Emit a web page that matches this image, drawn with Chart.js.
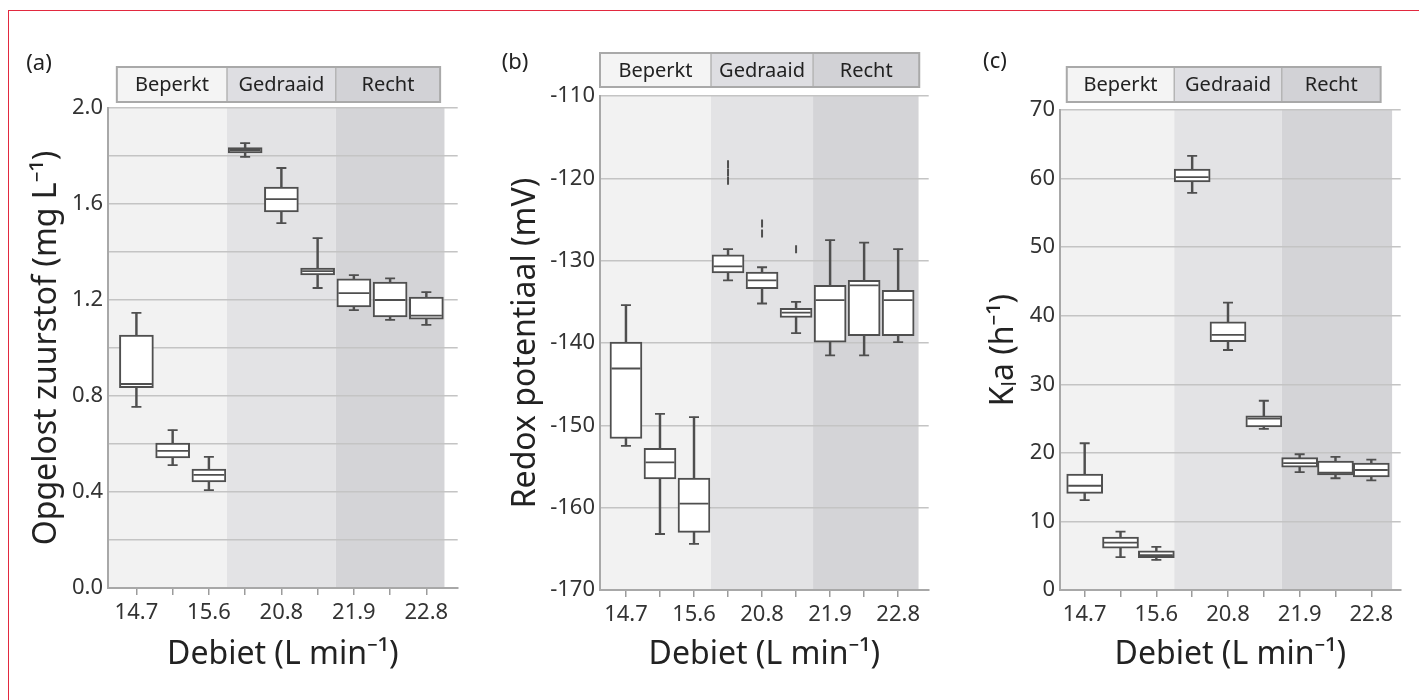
<!DOCTYPE html>
<html>
<head>
<meta charset="utf-8">
<script src="https://cdn.jsdelivr.net/npm/chart.js@4.4.1/dist/chart.umd.min.js"></script>
<style>
    html, body { margin: 0; padding: 0; background: #ffffff; }
    #page { position: relative; width: 1419px; height: 700px; overflow: hidden; }
    #frame { position: absolute; left: 8px; top: 10px; right: -10px; bottom: -10px;
             border-left: 1.5px solid #e2293f; border-top: 1.5px solid #e2293f; }
    .panel { position: absolute; top: 0; height: 700px; }
</style>
</head>
<body>
<div id="page">
    <div id="frame"></div>
    <div class="panel" style="left:0;width:475px"><canvas id="chartA"></canvas></div>
    <div class="panel" style="left:475px;width:470px"><canvas id="chartB"></canvas></div>
    <div class="panel" style="left:945px;width:474px"><canvas id="chartC"></canvas></div>
</div>
<script>
/* ==========================================================
   Data: box statistics per flow rate
========================================================== */

const flowLabels = ["14.7", "", "15.6", "", "20.8", "", "21.9", "", "22.8"];
const groupNames = ["Beperkt", "Gedraaid", "Recht"];
const groupSizes = [3, 3, 3];

// (a) Opgelost zuurstof (mg/L)
const oxygenMin    = [0.755, 0.512, 0.408, 1.796, 1.52, 1.25, 1.158, 1.117, 1.096];
const oxygenQ1     = [0.835, 0.542, 0.442, 1.813, 1.567, 1.304, 1.171, 1.129, 1.12];
const oxygenMedian = [0.85, 0.571, 0.471, 1.825, 1.62, 1.32, 1.229, 1.2, 1.135];
const oxygenQ3     = [1.054, 0.604, 0.496, 1.835, 1.671, 1.333, 1.288, 1.275, 1.212];
const oxygenMax    = [1.146, 0.658, 0.546, 1.854, 1.75, 1.458, 1.304, 1.29, 1.233];

// (b) Redox potentiaal (mV)
const redoxMin    = [-152.5, -163.2, -164.4, -132.4, -135.2, -138.8, -141.5, -141.5, -139.9];
const redoxQ1     = [-151.6, -156.5, -163.0, -131.5, -133.4, -136.9, -139.9, -139.1, -139.1];
const redoxMedian = [-143.1, -154.5, -159.5, -130.7, -132.4, -136.3, -134.8, -133.0, -134.8];
const redoxQ3     = [-139.9, -152.8, -156.4, -129.3, -131.4, -135.8, -133.0, -132.4, -133.6];
const redoxMax    = [-135.4, -148.6, -149.0, -128.6, -130.8, -135.0, -127.5, -127.8, -128.6];
const redoxOutlierAt  = [4, 4, 4, 5, 5, 6];
const redoxOutlierVal = [-118.3, -119.3, -120.3, -125.5, -126.7, -128.6];

// (c) KLa (1/h)
const klaMin    = [13.1, 4.8, 4.4, 57.9, 35.0, 23.5, 17.2, 16.3, 16.0];
const klaQ1     = [14.1, 6.1, 4.7, 59.5, 36.2, 23.8, 17.9, 16.8, 16.5];
const klaMedian = [15.2, 6.9, 5.1, 60.2, 37.2, 25.0, 18.5, 17.1, 17.5];
const klaQ3     = [16.9, 7.7, 5.7, 61.4, 39.1, 25.4, 19.3, 18.8, 18.5];
const klaMax    = [21.4, 8.5, 6.3, 63.3, 41.9, 27.6, 19.8, 19.4, 19.0];

/* ==========================================================
   Styling
========================================================== */

const EDGE = "#4f4f4f";
const SHADES = ["#f2f2f2", "#e3e3e5", "#d4d4d7"];
const HEAD_FILLS = ["#f4f4f4", "#dedee2", "#d2d2d6"];

Chart.defaults.font.family = "'Noto Sans', sans-serif";
Chart.defaults.color = "#333333";

// cumulative group edges in x units (3.5, 6.5, ...)
let acc = 0;
const groupEdges = groupSizes.map((n) => (acc += n) + 0.5);

/* ==========================================================
   Shaded groups, header strip and panel letter
========================================================== */

const bandPlugin = {
    id: "bands",
    beforeDraw(chart, args, o) {
        const { ctx, chartArea: a, scales: { x } } = chart;
        const edges = [a.left].concat(groupEdges.slice(0, -1).map((v) => x.getPixelForValue(v)));
        edges.push(x.getPixelForValue(o.shadeEnd));
        ctx.save();
        groupNames.forEach((g, i) => {
            ctx.fillStyle = SHADES[i];
            ctx.fillRect(edges[i], a.top, edges[i + 1] - edges[i], a.bottom - a.top);
        });
        ctx.restore();
    },
    afterDraw(chart, args, o) {
        const { ctx, scales: { x } } = chart;
        const edges = [x.getPixelForValue(o.headStart)]
            .concat(groupEdges.slice(0, -1).map((v) => x.getPixelForValue(v)));
        edges.push(x.getPixelForValue(o.headEnd));
        const h = o.headBottom - o.headTop;

        ctx.save();
        groupNames.forEach((g, i) => {
            ctx.fillStyle = HEAD_FILLS[i];
            ctx.fillRect(edges[i], o.headTop, edges[i + 1] - edges[i], h);
            ctx.fillStyle = "#222222";
            ctx.font = "20px 'Noto Sans', sans-serif";
            ctx.textAlign = "center";
            ctx.textBaseline = "middle";
            ctx.fillText(g, (edges[i] + edges[i + 1]) / 2, o.headTop + h / 2 + 1);
        });
        ctx.strokeStyle = "#b5b5b5";
        ctx.lineWidth = 1.5;
        for (let i = 1; i < edges.length - 1; i++) {
            ctx.beginPath();
            ctx.moveTo(edges[i], o.headTop);
            ctx.lineTo(edges[i], o.headBottom);
            ctx.stroke();
        }
        ctx.strokeStyle = "#a9a9a9";
        ctx.lineWidth = 2;
        ctx.strokeRect(edges[0], o.headTop, edges[edges.length - 1] - edges[0], h);

        ctx.fillStyle = "#222222";
        ctx.font = "22px 'Noto Sans', sans-serif";
        ctx.textAlign = "center";
        ctx.fillText(o.letter, o.letterX, o.letterY);
        ctx.restore();
    }
};

/* ==========================================================
   Box plot panel
========================================================== */

function renderPanel(id, s, p) {

    const at = (arr) => arr.map((v, i) => ({ x: i + 1, y: v }));
    const span = (lo, hi) => lo.map((v, i) => ({ x: i + 1, y: [v, hi[i]] }));

    const datasets = [
        { type: "bar", data: span(s.min, s.max), barThickness: 1.8,
          backgroundColor: EDGE, grouped: false, order: 5 },
        { type: "bar", data: span(s.q1, s.q3), barThickness: p.boxWidth,
          backgroundColor: "#ffffff", borderColor: EDGE, borderWidth: 2,
          borderSkipped: false, grouped: false, order: 4 },
        { type: "line", data: at(s.median), showLine: false, pointStyle: "line",
          pointRadius: p.boxWidth / 2 - 1.5, pointBorderWidth: 1.8, pointBorderColor: EDGE, order: 3 },
        { type: "line", data: at(s.min).concat(at(s.max)), showLine: false, pointStyle: "line",
          pointRadius: 5, pointBorderWidth: 1.8, pointBorderColor: EDGE, order: 2 }
    ];
    if (s.outAt) {
        datasets.push({
            type: "line", data: s.outAt.map((x, i) => ({ x: x, y: s.outVal[i] })), showLine: false,
            pointStyle: "line", pointRotation: 90, pointRadius: 4, pointBorderWidth: 2,
            pointBorderColor: EDGE, order: 1
        });
    }

    return new Chart(document.getElementById(id), {
        type: "bar",
        data: { datasets: datasets },
        options: {
            responsive: true,
            maintainAspectRatio: false,
            animation: false,
            events: [],
            layout: { padding: { left: 0, top: p.top, right: p.width - p.right, bottom: 0 } },
            plugins: {
                legend: { display: false },
                tooltip: { enabled: false },
                bands: p.bands
            },
            scales: {
                x: {
                    type: "linear",
                    min: p.xMin,
                    max: p.xMax,
                    offset: false,
                    afterBuildTicks: (sc) => { sc.ticks = flowLabels.map((_, i) => ({ value: i + 1 })); },
                    afterFit: (sc) => { sc.height = 700 - p.bottom; },
                    grid: { offset: false, drawOnChartArea: false, drawTicks: true, tickLength: 7,
                            color: "#9c9c9c", lineWidth: 1.5 },
                    border: { color: "#a8a8a8", width: 2 },
                    ticks: { autoSkip: false, maxRotation: 0, padding: 5, font: { size: 22 },
                             color: "#333333", callback: (v, i) => flowLabels[i] },
                    title: { display: true, text: "Debiet (L min⁻¹)", font: { size: 32 },
                             color: "#222222", padding: { top: 0, bottom: 26 } }
                },
                y: {
                    min: p.yMin,
                    max: p.yMax,
                    beginAtZero: false,
                    afterFit: (sc) => { sc.width = p.left; },
                    grid: { color: "#c4c4c4", lineWidth: 1.5, drawTicks: false },
                    border: { color: "#a8a8a8", width: 2 },
                    ticks: { stepSize: p.yStep, padding: 5, font: { size: 22 }, color: "#333333",
                             callback: p.yFormat },
                    title: { display: true, text: p.yTitle, font: { size: 32 }, color: "#222222",
                             padding: { top: p.yTitlePad, bottom: 0 } }
                }
            }
        },
        plugins: [bandPlugin]
    });
}

renderPanel("chartA",
    { min: oxygenMin, q1: oxygenQ1, median: oxygenMedian, q3: oxygenQ3, max: oxygenMax },
    { width: 475, left: 108, right: 465, top: 108, bottom: 588,
      xMin: 0.216, xMax: 9.865, boxWidth: 34,
      yMin: 0, yMax: 2, yStep: 0.2, yFormat: (v, i) => (i % 2 === 0 ? v.toFixed(1) : ""),
      yTitle: "Opgelost zuurstof (mg L⁻¹)", yTitlePad: 28,
      bands: { shadeEnd: 9.5, headStart: 0.46, headEnd: 9.38, headTop: 67, headBottom: 102,
               letter: "(a)", letterX: 39, letterY: 64 } });

renderPanel("chartB",
    { min: redoxMin, q1: redoxQ1, median: redoxMedian, q3: redoxQ3, max: redoxMax,
      outAt: redoxOutlierAt, outVal: redoxOutlierVal },
    { width: 470, left: 125, right: 467, top: 96, bottom: 590,
      xMin: 0.237, xMax: 9.898, boxWidth: 32,
      yMin: -170, yMax: -110, yStep: 10, yFormat: (v) => String(v),
      yTitle: "Redox potentiaal (mV)", yTitlePad: 32,
      bands: { shadeEnd: 9.6, headStart: 0.237, headEnd: 9.62, headTop: 53, headBottom: 87,
               letter: "(b)", letterX: 40, letterY: 63 } });

renderPanel("chartC",
    { min: klaMin, q1: klaQ1, median: klaMedian, q3: klaQ3, max: klaMax },
    { width: 474, left: 115, right: 474, top: 110, bottom: 590,
      xMin: 0.311, xMax: 9.82, boxWidth: 36,
      yMin: 0, yMax: 70, yStep: 10, yFormat: (v) => String(v),
      yTitle: "Kₗa (h⁻¹)", yTitlePad: 40,
      bands: { shadeEnd: 9.58, headStart: 0.5, headEnd: 9.26, headTop: 67, headBottom: 102,
               letter: "(c)", letterX: 50, letterY: 62 } });
</script>
</body>
</html>
